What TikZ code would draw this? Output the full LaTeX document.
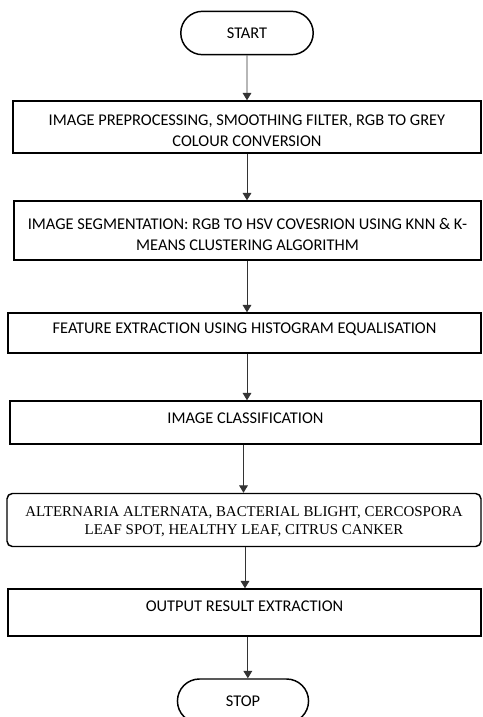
\documentclass[tikz,border=0pt]{standalone}
\usepackage{fontspec}
\setmainfont{Carlito}
\newfontfamily\serifbox{Liberation Serif}
\usetikzlibrary{positioning, arrows.meta, shapes.misc}

\tikzset{
  terminal/.style={rounded rectangle, draw, line width=1.1pt, minimum width=106pt, minimum height=32.5pt, font=\fontsize{12.3}{15}\selectfont},
  stepbox/.style={rectangle, draw, line width=1.1pt, align=center, inner sep=0pt, font=\fontsize{12.3}{16}\selectfont},
  flow/.style={-{Triangle[width=6.5pt,length=5.5pt]}, line width=0.7pt, black!80}
}

\begin{document}
\begin{tikzpicture}[x=0.75pt, y=-0.75pt]
        \useasboundingbox (0,0) rectangle (482,717);
        \node[terminal] (start) at (247,33) {START};
        \node[stepbox, minimum width=351pt, minimum height=39pt] (pre) at (247,127)
          {\rule{0pt}{13.7pt}IMAGE PREPROCESSING, SMOOTHING FILTER, RGB TO GREY\\COLOUR CONVERSION};
        \node[stepbox, minimum width=350.25pt, minimum height=44.25pt] (seg) at (247.5,230.5)
          {\rule{0pt}{14.5pt}IMAGE SEGMENTATION: RGB TO HSV COVESRION USING KNN \& K-\\MEANS CLUSTERING ALGORITHM};
        \node[stepbox, minimum width=354.75pt, minimum height=30pt, text height=7.9pt, text depth=6.8pt] (feat) at (244.5,333)
          {FEATURE EXTRACTION USING HISTOGRAM EQUALISATION};
        \node[stepbox, minimum width=353.25pt, minimum height=32.25pt, text height=7.9pt, text depth=6pt] (cls) at (245.5,422.5)
          {IMAGE CLASSIFICATION};
        \node[stepbox, rounded corners=4pt, minimum width=355.5pt, minimum height=39.75pt,
          font=\serifbox\fontsize{11.2}{13}\selectfont] (dis) at (244,520)
          {\rule{0pt}{10pt}ALTERNARIA ALTERNATA, BACTERIAL BLIGHT, CERCOSPORA\\LEAF SPOT, HEALTHY LEAF, CITRUS CANKER};
        \node[stepbox, minimum width=354.75pt, minimum height=35.25pt, text height=7.9pt, text depth=9.8pt] (out) at (244.5,612.5)
          {OUTPUT RESULT EXTRACTION};
        \node[terminal, minimum width=105pt, minimum height=33pt] (stop) at (243,701) {STOP};

        % connectors
        \draw[flow] (start) -- (start |- pre.north);
        \draw[flow] (pre.south -| start) -- (start |- seg.north);
        \draw[flow] (seg.south -| start) -- (start |- feat.north);
        \draw[flow] (feat.south -| start) -- (start |- cls.north);
        \draw[flow] ([xshift=-1.5pt]cls.south) -- ([xshift=-1.5pt]cls.south |- dis.north);
        \draw[flow] ([xshift=0.75pt]dis.south) -- ([xshift=0.75pt]dis.south |- out.north);
        \draw[flow] ([xshift=2.5pt]out.south) -- ([xshift=2.5pt]out.south |- stop.north);
      \end{tikzpicture}
\end{document}
